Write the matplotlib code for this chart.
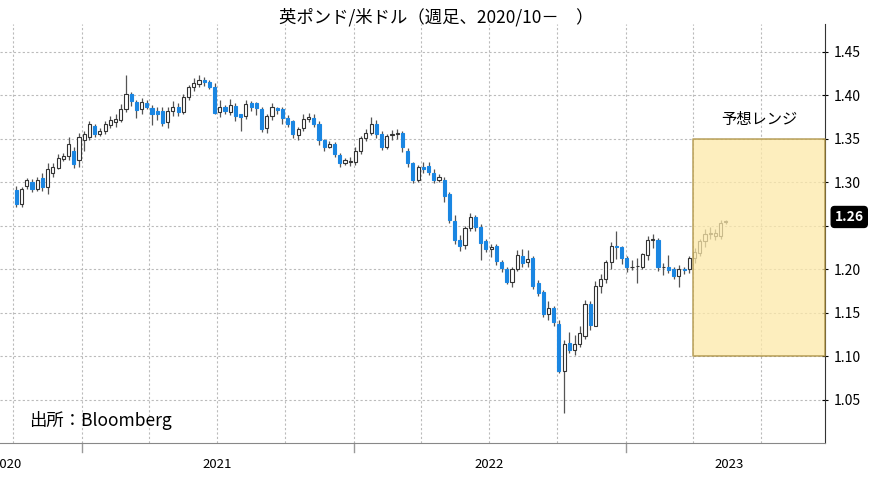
import matplotlib
matplotlib.use("Agg")
import matplotlib.pyplot as plt
import matplotlib.dates as mdates
import numpy as np
import pandas as pd

plt.rcParams["font.family"] = ["Noto Sans CJK JP", "DejaVu Sans"]

# weekly GBP/USD candles, starting week of 2020-10-05
start_date = "2020-10-05"
opens = [1.2915, 1.2745, 1.296, 1.300, 1.292, 1.305, 1.294, 1.311, 1.316, 1.327,
         1.330, 1.336, 1.325, 1.349, 1.352, 1.365, 1.356, 1.359, 1.366, 1.369,
         1.372, 1.384, 1.401, 1.392, 1.384, 1.391, 1.385, 1.382, 1.382, 1.369,
         1.382, 1.387, 1.381, 1.398, 1.409, 1.413, 1.418, 1.415, 1.410, 1.381,
         1.387, 1.381, 1.388, 1.378, 1.376, 1.391, 1.391, 1.384, 1.362, 1.376,
         1.385, 1.384, 1.374, 1.370, 1.354, 1.362, 1.373, 1.374, 1.367, 1.349,
         1.340, 1.344, 1.331, 1.322, 1.323, 1.323, 1.336, 1.351, 1.357, 1.367,
         1.355, 1.340, 1.354, 1.355, 1.357, 1.336, 1.322, 1.303, 1.318, 1.319,
         1.311, 1.303, 1.303, 1.286, 1.255, 1.234, 1.228, 1.247, 1.260, 1.248,
         1.232, 1.223, 1.227, 1.208, 1.200, 1.185, 1.200, 1.215, 1.208, 1.213,
         1.184, 1.174, 1.148, 1.155, 1.137, 1.083, 1.115, 1.107, 1.114, 1.123,
         1.160, 1.134, 1.181, 1.189, 1.208, 1.227, 1.225, 1.213, 1.202, 1.204,
         1.203, 1.216, 1.233, 1.233, 1.202, 1.203, 1.200, 1.192, 1.200, 1.200,
         1.213, 1.219, 1.232, 1.240, 1.238, 1.238, 1.254]
closes = [1.2745, 1.292, 1.302, 1.292, 1.303, 1.294, 1.315, 1.318, 1.328, 1.330,
          1.344, 1.321, 1.352, 1.355, 1.367, 1.355, 1.359, 1.367, 1.371, 1.373,
          1.384, 1.402, 1.393, 1.383, 1.392, 1.387, 1.379, 1.378, 1.368, 1.382,
          1.387, 1.381, 1.398, 1.409, 1.414, 1.418, 1.415, 1.409, 1.380, 1.387,
          1.382, 1.389, 1.376, 1.375, 1.390, 1.386, 1.385, 1.361, 1.376, 1.387,
          1.383, 1.374, 1.367, 1.355, 1.361, 1.373, 1.375, 1.367, 1.348, 1.340,
          1.344, 1.332, 1.322, 1.325, 1.324, 1.336, 1.351, 1.357, 1.367, 1.355,
          1.340, 1.353, 1.356, 1.357, 1.340, 1.322, 1.303, 1.318, 1.315, 1.312,
          1.303, 1.306, 1.284, 1.257, 1.234, 1.227, 1.247, 1.260, 1.248, 1.230,
          1.223, 1.225, 1.209, 1.201, 1.185, 1.200, 1.216, 1.207, 1.212, 1.181,
          1.173, 1.148, 1.155, 1.139, 1.083, 1.114, 1.107, 1.114, 1.127, 1.160,
          1.136, 1.181, 1.189, 1.208, 1.227, 1.225, 1.213, 1.202, 1.203, 1.204,
          1.217, 1.234, 1.235, 1.202, 1.202, 1.199, 1.192, 1.200, 1.199, 1.213,
          1.220, 1.232, 1.240, 1.241, 1.241, 1.253, 1.255]
highs = [1.296, 1.294, 1.305, 1.304, 1.306, 1.311, 1.322, 1.322, 1.333, 1.334,
         1.352, 1.340, 1.357, 1.359, 1.370, 1.367, 1.362, 1.370, 1.376, 1.378,
         1.390, 1.423, 1.404, 1.394, 1.397, 1.394, 1.389, 1.387, 1.387, 1.386,
         1.393, 1.391, 1.401, 1.412, 1.420, 1.423, 1.421, 1.418, 1.414, 1.394,
         1.389, 1.396, 1.391, 1.379, 1.395, 1.393, 1.392, 1.386, 1.379, 1.391,
         1.387, 1.386, 1.377, 1.372, 1.364, 1.378, 1.380, 1.378, 1.370, 1.350,
         1.347, 1.346, 1.334, 1.328, 1.329, 1.340, 1.353, 1.361, 1.375, 1.371,
         1.359, 1.356, 1.360, 1.361, 1.359, 1.339, 1.323, 1.320, 1.323, 1.323,
         1.315, 1.310, 1.306, 1.289, 1.262, 1.239, 1.250, 1.264, 1.262, 1.252,
         1.235, 1.229, 1.229, 1.211, 1.203, 1.202, 1.222, 1.223, 1.222, 1.215,
         1.188, 1.176, 1.163, 1.158, 1.142, 1.118, 1.128, 1.124, 1.135, 1.165,
         1.163, 1.186, 1.194, 1.211, 1.231, 1.244, 1.227, 1.215, 1.210, 1.213,
         1.219, 1.238, 1.240, 1.236, 1.207, 1.216, 1.203, 1.205, 1.202, 1.215,
         1.224, 1.235, 1.246, 1.248, 1.246, 1.256, 1.257]
lows = [1.272, 1.271, 1.292, 1.289, 1.290, 1.290, 1.286, 1.306, 1.315, 1.324,
        1.326, 1.316, 1.318, 1.336, 1.349, 1.352, 1.353, 1.356, 1.362, 1.364,
        1.369, 1.381, 1.388, 1.374, 1.378, 1.384, 1.366, 1.371, 1.365, 1.362,
        1.376, 1.376, 1.378, 1.395, 1.405, 1.410, 1.411, 1.407, 1.378, 1.375,
        1.378, 1.377, 1.370, 1.359, 1.373, 1.382, 1.377, 1.358, 1.357, 1.372,
        1.379, 1.367, 1.364, 1.351, 1.348, 1.359, 1.369, 1.364, 1.343, 1.336,
        1.339, 1.329, 1.318, 1.320, 1.319, 1.320, 1.333, 1.347, 1.354, 1.351,
        1.337, 1.338, 1.349, 1.350, 1.335, 1.318, 1.299, 1.300, 1.311, 1.308,
        1.299, 1.300, 1.277, 1.253, 1.229, 1.221, 1.223, 1.244, 1.244, 1.210,
        1.220, 1.214, 1.205, 1.197, 1.183, 1.179, 1.198, 1.203, 1.203, 1.177,
        1.169, 1.145, 1.142, 1.135, 1.080, 1.035, 1.103, 1.101, 1.110, 1.120,
        1.130, 1.134, 1.172, 1.184, 1.200, 1.212, 1.206, 1.197, 1.199, 1.184,
        1.200, 1.210, 1.224, 1.198, 1.193, 1.196, 1.189, 1.180, 1.194, 1.196,
        1.207, 1.215, 1.225, 1.235, 1.234, 1.235, 1.252]

range_low, range_high = 1.10, 1.35
range_start, range_end = "2023-04-01", "2023-09-25"
last_price = 1.26
y_ticks = [1.05, 1.10, 1.15, 1.20, 1.25, 1.30, 1.35, 1.40, 1.45]
years = [2020, 2021, 2022, 2023]
year_label_dates = ["2020-09-22", "2021-07-02", "2022-07-02", "2023-05-20"]

dates = pd.date_range(start_date, periods=len(closes), freq="7D")
x = mdates.date2num(dates)
o, c, h, l = map(np.array, (opens, closes, highs, lows))

fig = plt.figure(figsize=(8.73, 4.9), dpi=100)
ax = fig.add_axes([0.0, 0.096, 0.945, 0.855])

up = c >= o
width = 4.2
ax.vlines(x, l, h, color="#555555", linewidth=0.9, zorder=2)
ax.bar(x[up], c[up] - o[up], bottom=o[up], width=width, color="white",
       edgecolor="#333333", linewidth=0.8, zorder=3)
ax.bar(x[~up], o[~up] - c[~up], bottom=c[~up], width=width, color="#1a86e2",
       edgecolor="#1a86e2", linewidth=0.8, zorder=3)

# forecast band
bx0, bx1 = mdates.datestr2num(range_start), mdates.datestr2num(range_end)
ax.fill_between([bx0, bx1], range_low, range_high, facecolor="#fde9a9",
                edgecolor="#a88c3c", linewidth=1.2, alpha=0.75, zorder=4)
ax.text((bx0 + bx1) / 2, range_high + 0.012, "予想レンジ", ha="center",
        va="bottom", fontsize=11)

ax.set_xlim(mdates.datestr2num("2020-09-13"), mdates.datestr2num("2023-09-25"))
ax.set_ylim(1.0, 1.482)

ax.yaxis.tick_right()
ax.set_yticks(y_ticks)
ax.set_yticklabels([("" if abs(v - last_price) < 0.02 else f"{v:.2f}") for v in y_ticks],
                   fontsize=10)
ax.tick_params(axis="y", length=5, direction="inout", pad=4)

# quarterly grid, yearly boundaries
ax.xaxis.set_major_locator(mdates.MonthLocator(bymonth=[1, 4, 7, 10]))
ax.xaxis.set_major_formatter(plt.NullFormatter())
ax.tick_params(axis="x", length=0)
ax.grid(True, color="#bbbbbb", linestyle=(0, (2, 2)), linewidth=0.8)
for yr in years[1:]:
    ax.axvline(mdates.datestr2num(f"{yr}-01-01"), ymin=-0.022, ymax=0.0,
               color="#999999", linewidth=1, clip_on=False)
for yr, d in zip(years, year_label_dates):
    ax.text(mdates.datestr2num(d), -0.035, str(yr), transform=ax.get_xaxis_transform(),
            ha="center", va="top", fontsize=9.5)

for side in ("left", "top"):
    ax.spines[side].set_visible(False)
ax.spines["bottom"].set_color("#888888")
ax.spines["right"].set_color("#333333")

ax.annotate(f"{last_price:.2f}", xy=(1.0, last_price), xycoords=("axes fraction", "data"),
            xytext=(7, 0), textcoords="offset points", ha="left", va="center",
            fontsize=10, color="white", fontweight="bold",
            bbox=dict(boxstyle="round,pad=0.25", fc="black", ec="black"))

ax.text(0.035, 0.04, "出所：Bloomberg", transform=ax.transAxes, fontsize=12.5)
fig.text(0.5, 0.965, "英ポンド/米ドル（週足、2020/10－　）", ha="center",
         va="center", fontsize=12.5)

fig.savefig("out.png", dpi=100)
